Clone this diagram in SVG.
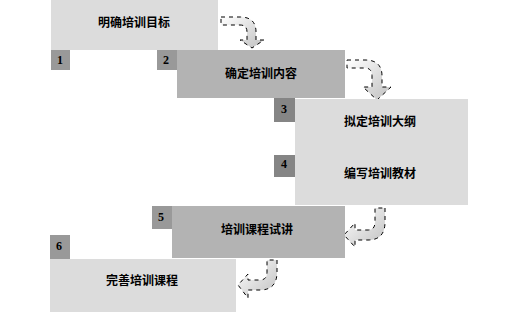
<svg xmlns="http://www.w3.org/2000/svg" width="516" height="312" viewBox="0 0 516 312">
<style>
.light{fill:#dcdcdc}
.mid{fill:#b3b3b3}
.tag{fill:#999999}
.tagd{fill:#858585}
.lbl{font-family:"Noto Sans CJK SC","Noto Sans",sans-serif;font-size:12px;font-weight:bold;fill:#000;text-anchor:middle;dominant-baseline:central}
.num{font-family:"Liberation Serif",serif;font-size:12px;font-weight:bold;fill:#000;text-anchor:middle}
.arr{fill:url(#g1);stroke:#000;stroke-width:1;stroke-dasharray:4 4}
</style>
<defs>
<linearGradient id="g1" x1="0" y1="0" x2="1" y2="1">
<stop offset="0" stop-color="#ffffff"/>
<stop offset="1" stop-color="#c0c0c0"/>
</linearGradient>
</defs>
<g id="connectors">
<path class="arr" d="M221,17 L240,17 Q256,17 256,32 L256,40 L264,40 L252,48 L240,40 L247,40 L247,32 Q247,25 240,25 L221,25 Z"/>
<path class="arr" d="M347,60 L365,60 Q382,60 382,76 L382,87 L391,87 L377,100 L363,87 L372,87 L372,76 Q372,68 365,68 L347,68 Z"/>
<path class="arr" d="M385,208 L385,222 Q385,240 368,240 L355,240 L355,247 L344,235 L355,223 L355,230 L368,230 Q375,230 375,222 L375,208 Z"/>
<path class="arr" d="M277,260 L277,272 Q277,290 260,290 L248,290 L248,298 L238,285 L248,274 L248,280 L260,280 Q267,280 267,272 L267,260 Z"/>
</g>
<g id="node1">
<rect class="light" x="51" y="0" width="167" height="50"/>
<text class="lbl" x="134" y="21">明确培训目标</text>
<rect class="tag" x="51" y="50" width="19" height="20"/>
<text class="num" x="60" y="64">1</text>
</g>
<g id="node2">
<rect class="mid" x="177" y="50" width="168" height="48"/>
<text class="lbl" x="261" y="72">确定培训内容</text>
<rect class="tag" x="157" y="50" width="20" height="20"/>
<text class="num" x="166" y="64">2</text>
</g>
<g id="node3">
<rect class="light" x="295" y="99" width="173" height="106"/>
<text class="lbl" x="380" y="120">拟定培训大纲</text>
<rect class="tagd" x="274" y="98" width="21" height="24"/>
<text class="num" x="284" y="113">3</text>
</g>
<g id="node4">
<text class="lbl" x="380" y="172">编写培训教材</text>
<rect class="tagd" x="274" y="155" width="21" height="22"/>
<text class="num" x="284" y="168">4</text>
</g>
<g id="node5">
<rect class="mid" x="172" y="206" width="173" height="52"/>
<text class="lbl" x="257" y="228">培训课程试讲</text>
<rect class="tag" x="152" y="206" width="20" height="23"/>
<text class="num" x="161" y="221">5</text>
</g>
<g id="node6">
<rect class="light" x="50" y="259" width="186" height="53"/>
<text class="lbl" x="142" y="279">完善培训课程</text>
<rect class="tag" x="50" y="235" width="20" height="24"/>
<text class="num" x="59" y="250">6</text>
</g>
</svg>
